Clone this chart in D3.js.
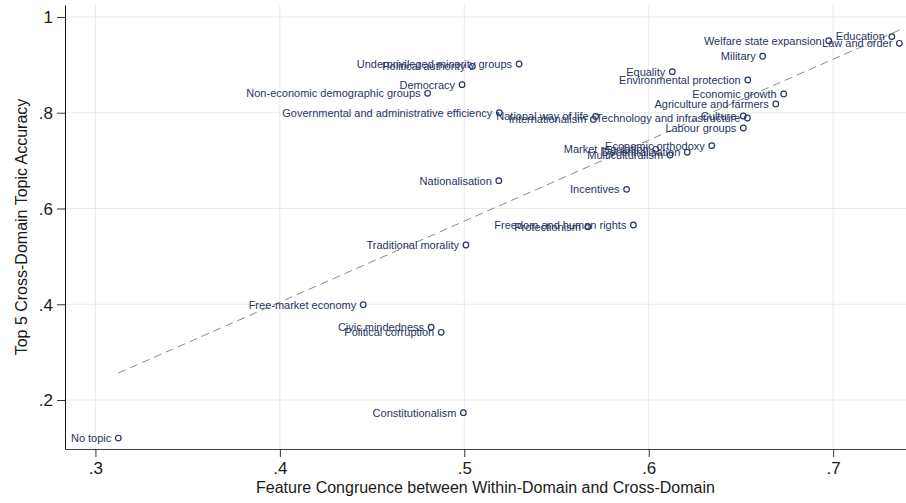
<!DOCTYPE html>
<html>
<head>
<meta charset="utf-8">
<script src="https://cdn.jsdelivr.net/npm/d3@7"></script>
<style>
  body { margin: 0; background: #fff; }
  svg { display: block; font-family: "Liberation Sans", Arial, sans-serif; }
</style>
</head>
<body>
<div id="chart"></div>
<script>
// topic names, read left to right-ish
const topics = ['No topic', 'Constitutionalism', 'Civic mindedness', 'Political corruption',
  'Free-market economy', 'Traditional morality', 'Protectionism', 'Freedom and human rights',
  'Nationalisation', 'Incentives', 'Market regulation', 'Multiculturalism', 'Decentralisation',
  'Economic orthodoxy', 'Governmental and administrative efficiency', 'National way of life',
  'Internationalism', 'Technology and infrastructure', 'Culture', 'Labour groups',
  'Agriculture and farmers', 'Economic growth', 'Environmental protection', 'Equality',
  'Military', 'Welfare state expansion', 'Education', 'Law and order',
  'Underprivileged minority groups', 'Political authority', 'Democracy',
  'Non-economic demographic groups'];

// feature congruence (x)
const congruence = [0.3124, 0.4995, 0.4820, 0.4875, 0.4452, 0.5009, 0.5670, 0.5917,
  0.5187, 0.5880, 0.6038, 0.6116, 0.6209, 0.6342, 0.5190, 0.5712, 0.5700, 0.6535,
  0.6513, 0.6513, 0.6689, 0.6732, 0.6537, 0.6128, 0.6618, 0.6976, 0.7318, 0.7359,
  0.5297, 0.5044, 0.4988, 0.4801];

// top 5 cross-domain accuracy (y)
const accuracy = [0.1206, 0.1735, 0.3520, 0.3414, 0.3990, 0.5238, 0.5620, 0.5655,
  0.6580, 0.6400, 0.7236, 0.7117, 0.7174, 0.7312, 0.8000, 0.7922, 0.7860, 0.7890,
  0.7932, 0.7681, 0.8183, 0.8392, 0.8684, 0.8858, 0.9180, 0.9505, 0.9590, 0.9450,
  0.9018, 0.8970, 0.8586, 0.8406];

const xTicks = [0.3, 0.4, 0.5, 0.6, 0.7];
const yTicks = [0.2, 0.4, 0.6, 0.8, 1];
const xDomain = [0.2835, 0.7395];
const yDomain = [0.0977, 1.025];

const width = 906, height = 503;
const pLeft = 65, pRight = 906, pTop = 5, pBottom = 449;
const navy = '#27355f';
const fmt = d => d === 1 ? '1' : d3.format('.1f')(d).replace(/^0/, '');

const x = d3.scaleLinear().domain(xDomain).range([pLeft, pRight]);
const y = d3.scaleLinear().domain(yDomain).range([pBottom, pTop]);

const svg = d3.select('#chart').append('svg')
  .attr('width', width)
  .attr('height', height);

// grid
svg.append('g').selectAll('line')
  .data(xTicks).join('line')
  .attr('x1', d => x(d)).attr('x2', d => x(d))
  .attr('y1', pTop).attr('y2', pBottom)
  .attr('stroke', '#eaeaea');
svg.append('g').selectAll('line')
  .data(yTicks).join('line')
  .attr('x1', pLeft).attr('x2', pRight)
  .attr('y1', d => y(d)).attr('y2', d => y(d))
  .attr('stroke', '#eaeaea');

// axes
const xAxis = svg.append('g')
  .attr('transform', `translate(0,${pBottom})`)
  .call(d3.axisBottom(x).tickValues(xTicks).tickFormat(fmt).tickSize(8).tickPadding(5).tickSizeOuter(0));
const yAxis = svg.append('g')
  .attr('transform', `translate(${pLeft},0)`)
  .call(d3.axisLeft(y).tickValues(yTicks).tickFormat(fmt).tickSize(8).tickPadding(4).tickSizeOuter(0));
[xAxis, yAxis].forEach(g => {
  g.selectAll('text').attr('font-size', 17).attr('fill', '#1a1a1a')
    .attr('font-family', '"Liberation Sans", Arial, sans-serif');
  g.selectAll('line').attr('stroke', '#333');
});
xAxis.select('.domain').attr('stroke', '#444');
yAxis.select('.domain').attr('stroke', '#111');
yAxis.selectAll('text').attr('dy', '0.35em');

// linear fit through the points
const n = congruence.length;
const mx = d3.mean(congruence), my = d3.mean(accuracy);
let sxy = 0, sxx = 0;
for (let i = 0; i < n; i++) {
  sxy += (congruence[i] - mx) * (accuracy[i] - my);
  sxx += (congruence[i] - mx) ** 2;
}
const slope = sxy / sxx, icept = my - slope * mx;
const fitX = d3.extent(congruence);
svg.append('line')
  .attr('x1', x(fitX[0])).attr('y1', y(icept + slope * fitX[0]))
  .attr('x2', x(fitX[1])).attr('y2', y(icept + slope * fitX[1]))
  .attr('stroke', '#8a8a8a')
  .attr('stroke-width', 1)
  .attr('stroke-dasharray', '8,5');

// points + labels at 9 o'clock
const pts = topics.map((t, i) => ({ name: t, cx: congruence[i], cy: accuracy[i] }));
const g = svg.append('g');
g.selectAll('text')
  .data(pts).join('text')
  .attr('x', d => x(d.cx) - 7)
  .attr('y', d => y(d.cy))
  .attr('dy', '0.35em')
  .attr('text-anchor', 'end')
  .attr('font-size', 11)
  .attr('fill', navy)
  .text(d => d.name);
g.selectAll('circle')
  .data(pts).join('circle')
  .attr('cx', d => x(d.cx))
  .attr('cy', d => y(d.cy))
  .attr('r', 2.8)
  .attr('fill', 'none')
  .attr('stroke', navy)
  .attr('stroke-width', 1.2);

// axis titles
svg.append('text')
  .attr('x', (pLeft + pRight) / 2)
  .attr('y', 493)
  .attr('text-anchor', 'middle')
  .attr('font-size', 16)
  .attr('fill', '#1a1a1a')
  .text('Feature Congruence between Within-Domain and Cross-Domain');
svg.append('text')
  .attr('transform', `translate(27,${(pTop + pBottom) / 2}) rotate(-90)`)
  .attr('text-anchor', 'middle')
  .attr('font-size', 16)
  .attr('fill', '#1a1a1a')
  .text('Top 5 Cross-Domain Topic Accuracy');
</script>
</body>
</html>
